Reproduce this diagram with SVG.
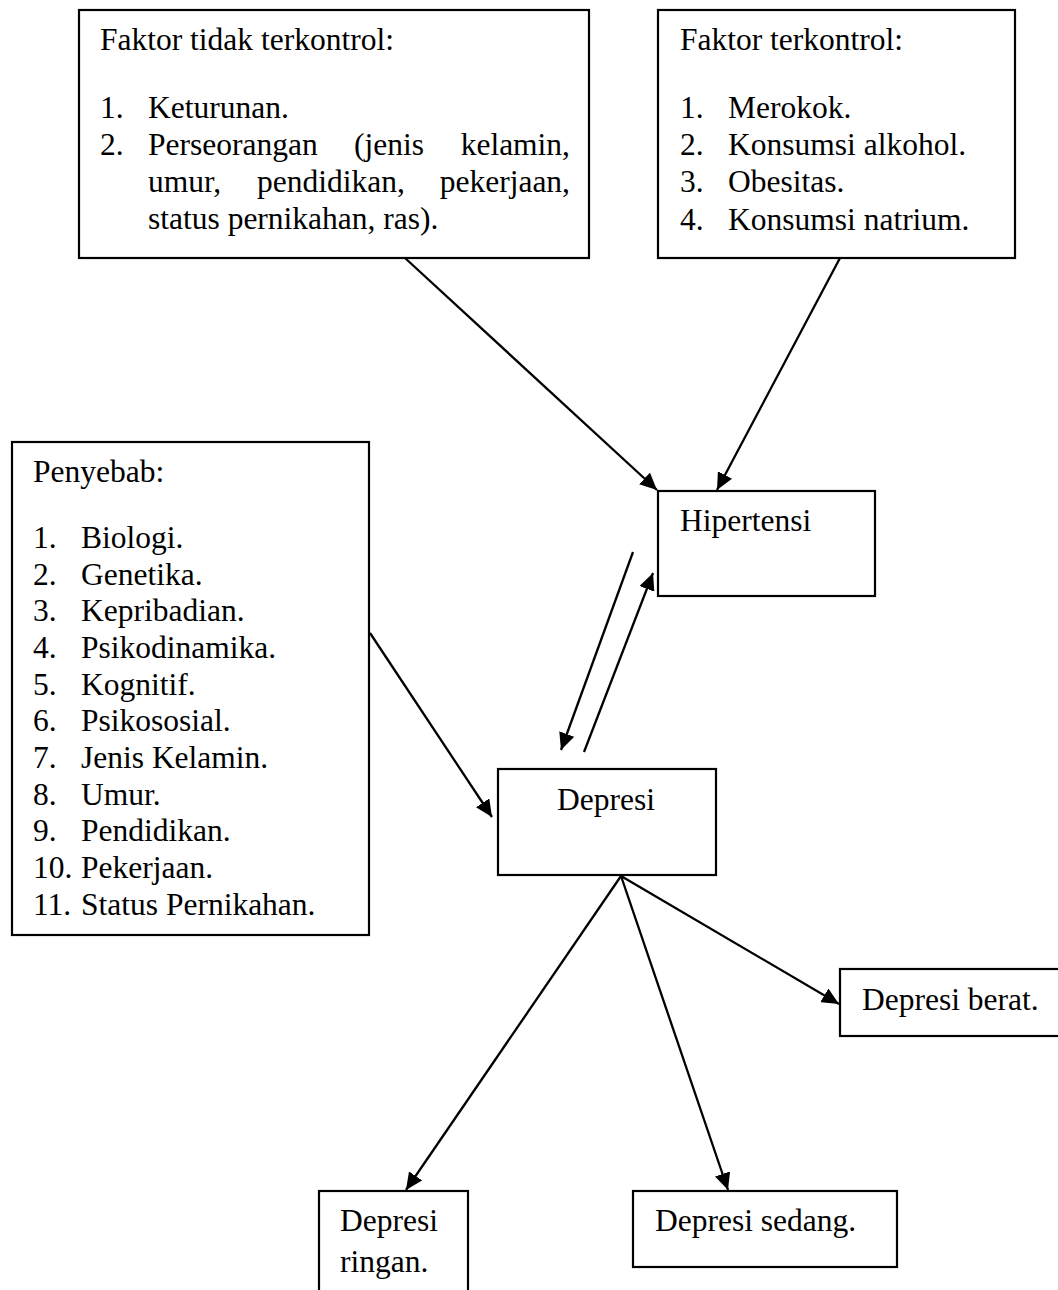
<svg xmlns="http://www.w3.org/2000/svg" width="1058" height="1290" viewBox="0 0 1058 1290">
<style>
  .box { fill: #ffffff; stroke: #000000; stroke-width: 2.2; }
  .t { font-family: "Liberation Serif", "Times New Roman", serif; font-size: 31.5px; fill: #000000; }
  .edge { stroke: #000000; stroke-width: 2.3; fill: none; marker-end: url(#arrow); }
</style>
<defs>
  <marker id="arrow" markerUnits="userSpaceOnUse" markerWidth="18" markerHeight="16" refX="17" refY="8" orient="auto">
    <path d="M0,0 L17,8 L0,16 z" fill="#000000"/>
  </marker>
</defs>
<rect x="0" y="0" width="1058" height="1290" fill="#ffffff"/>

<g id="node-faktor-tidak-terkontrol">
  <rect class="box" x="79" y="10" width="510" height="248"/>
  <text class="t" x="100" y="50">Faktor tidak terkontrol:</text>
  <text class="t" x="100" y="118">1.</text>
  <text class="t" x="148" y="118">Keturunan.</text>
  <text class="t" x="100" y="155">2.</text>
  <text class="t" x="148" y="155">Perseorangan</text>
  <text class="t" x="354" y="155">(jenis</text>
  <text class="t" x="570" y="155" text-anchor="end">kelamin,</text>
  <text class="t" x="148" y="192">umur,</text>
  <text class="t" x="257" y="192">pendidikan,</text>
  <text class="t" x="570" y="192" text-anchor="end">pekerjaan,</text>
  <text class="t" x="148" y="229">status pernikahan, ras).</text>
</g>

<g id="node-faktor-terkontrol">
  <rect class="box" x="658" y="10" width="357" height="248"/>
  <text class="t" x="680" y="50">Faktor terkontrol:</text>
  <text class="t" x="680" y="118">1.</text><text class="t" x="728" y="118">Merokok.</text>
  <text class="t" x="680" y="155">2.</text><text class="t" x="728" y="155">Konsumsi alkohol.</text>
  <text class="t" x="680" y="192">3.</text><text class="t" x="728" y="192">Obesitas.</text>
  <text class="t" x="680" y="230">4.</text><text class="t" x="728" y="230">Konsumsi natrium.</text>
</g>

<g id="node-penyebab">
  <rect class="box" x="12" y="442" width="357" height="493"/>
  <text class="t" x="33" y="482">Penyebab:</text>
  <text class="t" x="33" y="548">1.</text><text class="t" x="81" y="548">Biologi.</text>
  <text class="t" x="33" y="585">2.</text><text class="t" x="81" y="585">Genetika.</text>
  <text class="t" x="33" y="621">3.</text><text class="t" x="81" y="621">Kepribadian.</text>
  <text class="t" x="33" y="658">4.</text><text class="t" x="81" y="658">Psikodinamika.</text>
  <text class="t" x="33" y="695">5.</text><text class="t" x="81" y="695">Kognitif.</text>
  <text class="t" x="33" y="731">6.</text><text class="t" x="81" y="731">Psikososial.</text>
  <text class="t" x="33" y="768">7.</text><text class="t" x="81" y="768">Jenis Kelamin.</text>
  <text class="t" x="33" y="805">8.</text><text class="t" x="81" y="805">Umur.</text>
  <text class="t" x="33" y="841">9.</text><text class="t" x="81" y="841">Pendidikan.</text>
  <text class="t" x="33" y="878">10.</text><text class="t" x="81" y="878">Pekerjaan.</text>
  <text class="t" x="33" y="915">11.</text><text class="t" x="81" y="915">Status Pernikahan.</text>
</g>

<g id="node-hipertensi">
  <rect class="box" x="658" y="491" width="217" height="105"/>
  <text class="t" x="680" y="531">Hipertensi</text>
</g>

<g id="node-depresi">
  <rect class="box" x="498" y="769" width="218" height="106"/>
  <text class="t" x="557" y="810">Depresi</text>
</g>

<g id="node-depresi-berat">
  <rect class="box" x="840" y="969" width="230" height="67"/>
  <text class="t" x="862" y="1010">Depresi berat.</text>
</g>

<g id="node-depresi-ringan">
  <rect class="box" x="319" y="1191" width="149" height="120"/>
  <text class="t" x="340" y="1231">Depresi</text>
  <text class="t" x="340" y="1272">ringan.</text>
</g>

<g id="node-depresi-sedang">
  <rect class="box" x="633" y="1191" width="264" height="76"/>
  <text class="t" x="655" y="1231">Depresi sedang.</text>
</g>

<g id="connectors">
  <line class="edge" x1="405" y1="258" x2="657" y2="490"/>
  <line class="edge" x1="840" y1="258" x2="717" y2="490"/>
  <line class="edge" x1="633" y1="552" x2="561" y2="750"/>
  <line class="edge" x1="584" y1="752" x2="653" y2="573"/>
  <line class="edge" x1="370" y1="633" x2="492" y2="817"/>
  <line class="edge" x1="621" y1="876" x2="406" y2="1190"/>
  <line class="edge" x1="621" y1="876" x2="728" y2="1190"/>
  <line class="edge" x1="621" y1="876" x2="839" y2="1004"/>
</g>
</svg>
